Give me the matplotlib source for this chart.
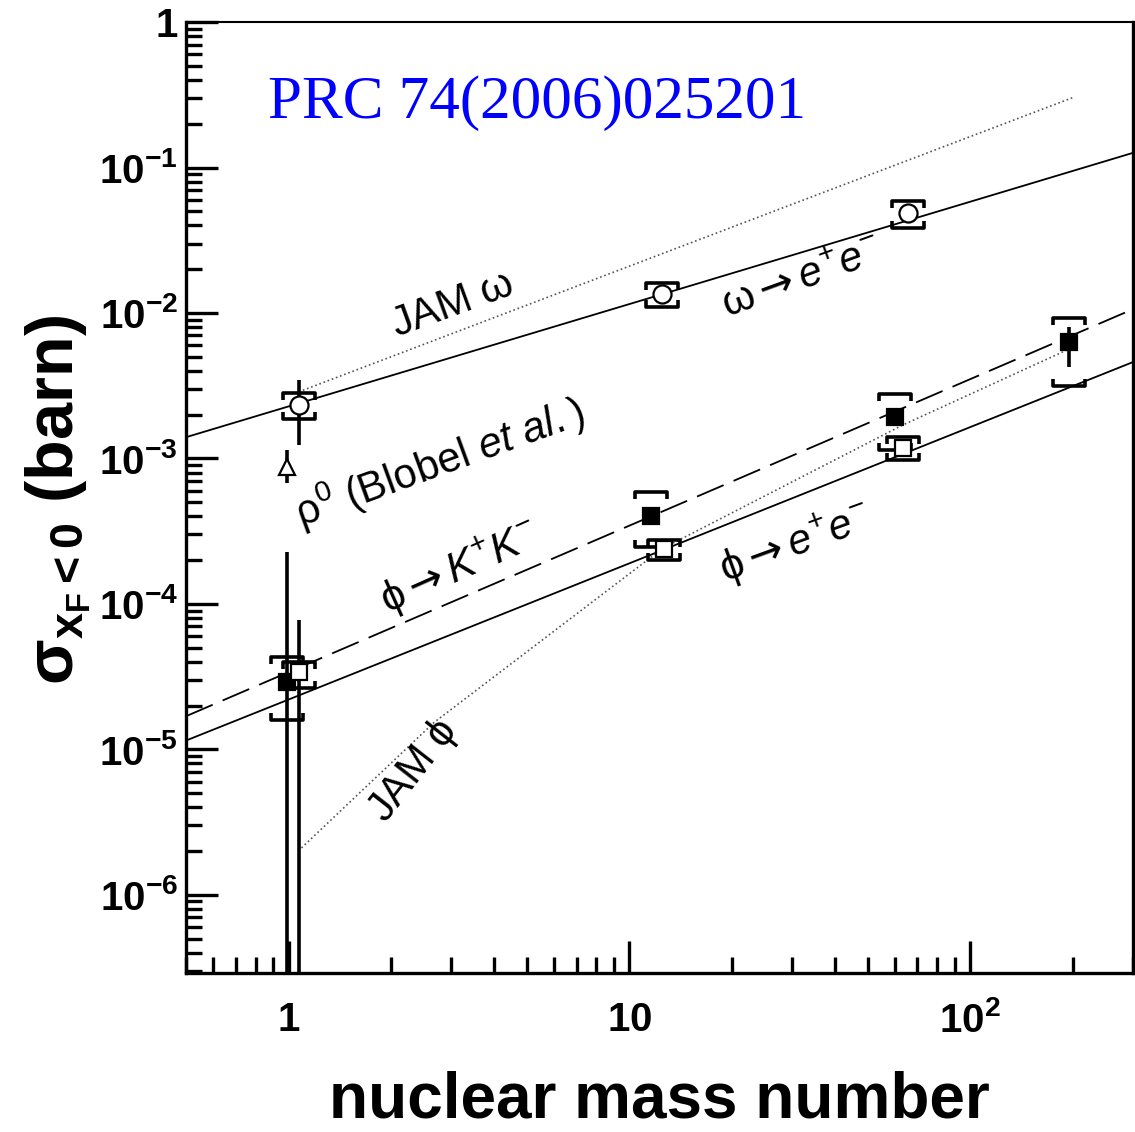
import matplotlib
matplotlib.use('Agg')
from matplotlib import pyplot as plt
from matplotlib.path import Path
from matplotlib.ticker import FuncFormatter, LogLocator
import numpy as np

plt.rcParams['font.family'] = ['Liberation Sans', 'DejaVu Sans']
plt.rcParams['mathtext.fontset'] = 'custom'
plt.rcParams['mathtext.rm'] = 'Liberation Sans'
plt.rcParams['mathtext.it'] = 'Liberation Sans:italic'
plt.rcParams['mathtext.bf'] = 'Liberation Sans:bold'
plt.rcParams['mathtext.sf'] = 'DejaVu Sans'

# omega -> e+e- (open circles)
omega_A = [1.07, 12.5, 65.5]
omega_sig = [2.32e-3, 1.35e-2, 4.86e-2]
omega_stat_lo = [1.23e-3, 1.25e-2, 4.5e-2]
omega_stat_hi = [3.45e-3, 1.45e-2, 5.2e-2]
omega_sys_lo = [1.86e-3, 1.10e-2, 3.83e-2]
omega_sys_hi = [2.81e-3, 1.60e-2, 5.87e-2]

# phi -> e+e- (open squares)
phiee_A = [1.07, 12.6, 63.4]
phiee_sig = [3.39e-5, 2.37e-4, 1.18e-3]
phiee_stat_lo = [1e-9, 2.2e-4, 1.1e-3]
phiee_stat_hi = [7.7e-5, 2.55e-4, 1.27e-3]
phiee_sys_lo = [2.63e-5, 2.0e-4, 9.72e-4]
phiee_sys_hi = [3.96e-5, 2.73e-4, 1.40e-3]

# phi -> K+K- (filled squares)
phikk_A = [0.99, 11.6, 60.2, 195.0]
phikk_sig = [2.89e-5, 4.0e-4, 1.92e-3, 6.3e-3]
phikk_stat_lo = [1e-9, 3.7e-4, 1.8e-3, 4.24e-3]
phikk_stat_hi = [2.26e-4, 4.3e-4, 2.05e-3, 7.98e-3]
phikk_sys_lo = [1.58e-5, 2.45e-4, 1.15e-3, 3.14e-3]
phikk_sys_hi = [4.30e-5, 5.86e-4, 2.77e-3, 9.21e-3]

# rho0 (Blobel et al.)
rho_A = [0.99]
rho_sig = [8.7e-4]
rho_lo = [6.76e-4]
rho_hi = [1.14e-3]

# fit lines and JAM curves
fit_A = [0.5, 300.0]
omega_fit = [1.40e-3, 0.126]
phikk_fit = [1.69e-5, 1.06e-2]
phiee_fit = [1.15e-5, 4.59e-3]
jam_omega_A = [1.1, 202.0]
jam_omega = [2.94e-3, 0.305]
jam_phi_A = [1.09, 2.67, 12.5, 63.5, 200.0]
jam_phi = [2.1e-6, 1.53e-5, 2.4e-4, 1.7e-3, 5.8e-3]

fig = plt.figure(figsize=(11.35, 11.32), dpi=100)
ax = fig.add_axes([0.164, 0.1405, 0.834, 0.840])
ax.set_xscale('log')
ax.set_yscale('log')
ax.set_xlim(0.5, 300)
ax.set_ylim(2.9e-7, 1)

ax.plot(fit_A, omega_fit, color='black', lw=1.3)
ax.plot(fit_A, phiee_fit, color='black', lw=1.3)
ax.plot(fit_A, phikk_fit, color='black', lw=1.3, dashes=(16, 6))
ax.plot(jam_omega_A, jam_omega, color='#555555', lw=1.2, ls=':')
ax.plot(jam_phi_A, jam_phi, color='#555555', lw=1.2, ls=':')

top_br = Path([(-1, -0.45), (-1, 0), (1, 0), (1, -0.45)])
bot_br = Path([(-1, 0.45), (-1, 0), (1, 0), (1, 0.45)])


def draw_set(A, sig, slo, shi, ylo, yhi, marker, face, ms):
    sig = np.array(sig)
    yerr = [sig - np.array(slo), np.array(shi) - sig]
    ax.errorbar(A, sig, yerr=yerr, fmt='none', ecolor='black', elinewidth=2.6, capsize=0, zorder=3)
    ax.plot(A, sig, ls='none', marker=marker, ms=ms, mfc=face, mec='black', mew=1.6, zorder=4)
    ax.plot(A, yhi, ls='none', marker=top_br, ms=23, mfc='none', mec='black', mew=2.6, zorder=4)
    ax.plot(A, ylo, ls='none', marker=bot_br, ms=23, mfc='none', mec='black', mew=2.6, zorder=4)


draw_set(omega_A, omega_sig, omega_stat_lo, omega_stat_hi, omega_sys_lo, omega_sys_hi, 'o', 'white', 13)
draw_set(phikk_A, phikk_sig, phikk_stat_lo, phikk_stat_hi, phikk_sys_lo, phikk_sys_hi, 's', 'black', 11)
draw_set(phiee_A, phiee_sig, phiee_stat_lo, phiee_stat_hi, phiee_sys_lo, phiee_sys_hi, 's', 'white', 12)

rho_sig_a = np.array(rho_sig)
ax.errorbar(rho_A, rho_sig, yerr=[rho_sig_a - np.array(rho_lo), np.array(rho_hi) - rho_sig_a],
            fmt='none', ecolor='black', elinewidth=2.6, capsize=0, zorder=3)
ax.plot(rho_A, rho_sig, ls='none', marker='^', ms=11, mfc='white', mec='black', mew=1.6, zorder=4)


def log_fmt(v, pos):
    e = int(round(np.log10(v)))
    if e == 0:
        return r'$\mathbf{1}$'
    if e == 1:
        return r'$\mathbf{10}$'
    return r'$\mathbf{10^{%d}}$' % e


ax.xaxis.set_major_locator(LogLocator(base=10, numticks=20))
ax.yaxis.set_major_locator(LogLocator(base=10, numticks=20))
ax.xaxis.set_minor_locator(LogLocator(base=10, subs=np.arange(2, 10), numticks=20))
ax.yaxis.set_minor_locator(LogLocator(base=10, subs=np.arange(2, 10), numticks=20))
ax.xaxis.set_major_formatter(FuncFormatter(log_fmt))
ax.yaxis.set_major_formatter(FuncFormatter(log_fmt))
ax.xaxis.set_minor_formatter(FuncFormatter(lambda v, p: ''))
ax.yaxis.set_minor_formatter(FuncFormatter(lambda v, p: ''))
ax.tick_params(which='both', direction='in', top=False, right=False, width=2.4, labelsize=29)
ax.tick_params(which='major', length=23)
ax.tick_params(which='minor', length=11.5)
ax.tick_params(axis='x', pad=20)
ax.tick_params(axis='y', pad=6)
for s in ['left', 'bottom', 'right']:
    ax.spines[s].set_linewidth(2.4)
ax.spines['top'].set_linewidth(1.5)


def atext(x, y, s, rot, size=30):
    ax.text(x, y, s, transform=ax.transAxes, rotation=rot, ha='center', va='center',
            fontsize=size, rotation_mode='anchor')


arrow = r'\mathsf{\rightarrow}'
atext(0.281, 0.702, r'JAM $\mathrm{\omega}$', 20)
atext(0.650, 0.730, r'$\mathrm{\omega}%s e^{+}e^{-}$' % arrow, 20)
atext(0.268, 0.537, r'$\mathrm{\rho}^{0}$ (Blobel $et\ al.$)', 20)
atext(0.289, 0.426, r'$\mathrm{\phi}%s K^{+}K^{-}$' % arrow, 24)
atext(0.643, 0.452, r'$\mathrm{\phi}%s e^{+}e^{-}$' % arrow, 20)
atext(0.240, 0.213, r'JAM $\mathrm{\phi}$', 52)

fig.text(268 / 1135, 1 - 118 / 1132, 'PRC 74(2006)025201', color='blue', fontsize=44,
         family='Liberation Serif', ha='left', va='baseline')

fig.text(0.051, 0.558, r'$\mathbf{\sigma_{x_{F}<0}}$ (barn)', rotation=90, ha='center', va='center',
         fontsize=48, fontweight='bold')
fig.text(0.581, 1 - 1117 / 1132, 'nuclear mass number', ha='center', va='baseline',
         fontsize=46, fontweight='bold')

fig.savefig('out.png', dpi=100)
